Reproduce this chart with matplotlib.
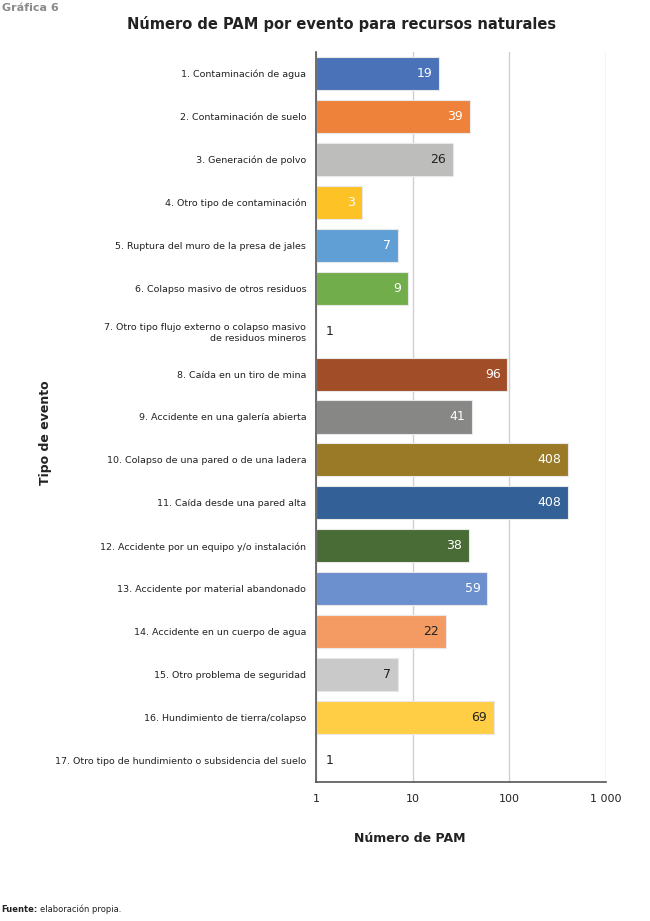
import numpy as np
from matplotlib import pyplot as plt

# data
eventos = [
    "1. Contaminación de agua",
    "2. Contaminación de suelo",
    "3. Generación de polvo",
    "4. Otro tipo de contaminación",
    "5. Ruptura del muro de la presa de jales",
    "6. Colapso masivo de otros residuos",
    "7. Otro tipo flujo externo o colapso masivo\nde residuos mineros",
    "8. Caída en un tiro de mina",
    "9. Accidente en una galería abierta",
    "10. Colapso de una pared o de una ladera",
    "11. Caída desde una pared alta",
    "12. Accidente por un equipo y/o instalación",
    "13. Accidente por material abandonado",
    "14. Accidente en un cuerpo de agua",
    "15. Otro problema de seguridad",
    "16. Hundimiento de tierra/colapso",
    "17. Otro tipo de hundimiento o subsidencia del suelo",
]
pam = [19, 39, 26, 3, 7, 9, 1, 96, 41, 408, 408, 38, 59, 22, 7, 69, 1]
colores = ["#4a72b8", "#ef823a", "#bdbdbb", "#fcc226", "#609fd6", "#72ad4c",
           "#2a4a7c", "#a14e28", "#878785", "#9b7a27", "#326097", "#496b35",
           "#6c8fcd", "#f39b62", "#c9c9c9", "#ffce44", "#2a4a7c"]
texto_oscuro = [3, 14, 15, 16]  # bars with dark value text (1-based)

plt.rcParams['font.family'] = ["DejaVu Sans"]

fig = plt.figure(figsize=(6.5, 9.21), dpi=100)
ax = fig.add_axes([0.486, 0.151, 0.446, 0.7925])

y = np.arange(len(eventos))
# bars start at the axis origin (1 on the log scale)
anchos = [v - 1 for v in pam]
ax.barh(y, anchos, height=0.77, left=1, color=colores, edgecolor="#e8e8e8",
        linewidth=0.8, zorder=3)
ax.set_xscale("log")
ax.set_xlim(1, 1000)
ax.set_ylim(len(eventos) - 0.5, -0.5)
ax.set_yticks(y)
ax.set_yticklabels(eventos, fontsize=6.8, color="#222222")
ax.set_xticks([1, 10, 100, 1000])
ax.set_xticklabels(["1", "10", "100", "1 000"], fontsize=8, color="#222222")
ax.minorticks_off()
ax.tick_params(axis="x", length=0, pad=9)
ax.tick_params(axis="y", length=0, pad=7)

ax.grid(axis="x", color="#d0d0d0", linewidth=1, zorder=0)
for s in ["top", "right"]:
    ax.spines[s].set_visible(False)
for s in ["left", "bottom"]:
    ax.spines[s].set_color("#555555")
    ax.spines[s].set_linewidth(1.2)
    ax.spines[s].set_zorder(4)

for i, v in enumerate(pam):
    if v == 1:
        ax.text(1.25, i, str(v), va="center", ha="left", fontsize=9,
                color="#222222", zorder=5)
    else:
        c = "#222222" if (i + 1) in texto_oscuro else "white"
        ax.text(v / 1.17, i, str(v), va="center", ha="right", fontsize=9,
                color=c, zorder=5)

fig.text(0.525, 0.974, "Número de PAM por evento para recursos naturales",
         ha="center", va="center", fontsize=10.5, fontweight="bold", color="#222222")
fig.text(0.003, 0.991, "Gráfica 6", ha="left", va="center", fontsize=8,
         fontweight="bold", color="#8a8a8a")
fig.text(0.07, 0.53, "Tipo de evento", rotation=90, ha="center", va="center",
         fontsize=9, fontweight="bold", color="#222222")
fig.text(0.63, 0.09, "Número de PAM", ha="center", va="center",
         fontsize=9, fontweight="bold", color="#222222")
fig.text(0.002, 0.008, "Fuente:", ha="left", va="bottom", fontsize=6,
         fontweight="bold", color="#222222")
fig.text(0.062, 0.008, "elaboración propia.", ha="left", va="bottom",
         fontsize=6, color="#222222")

fig.savefig("out.png", dpi=100)
